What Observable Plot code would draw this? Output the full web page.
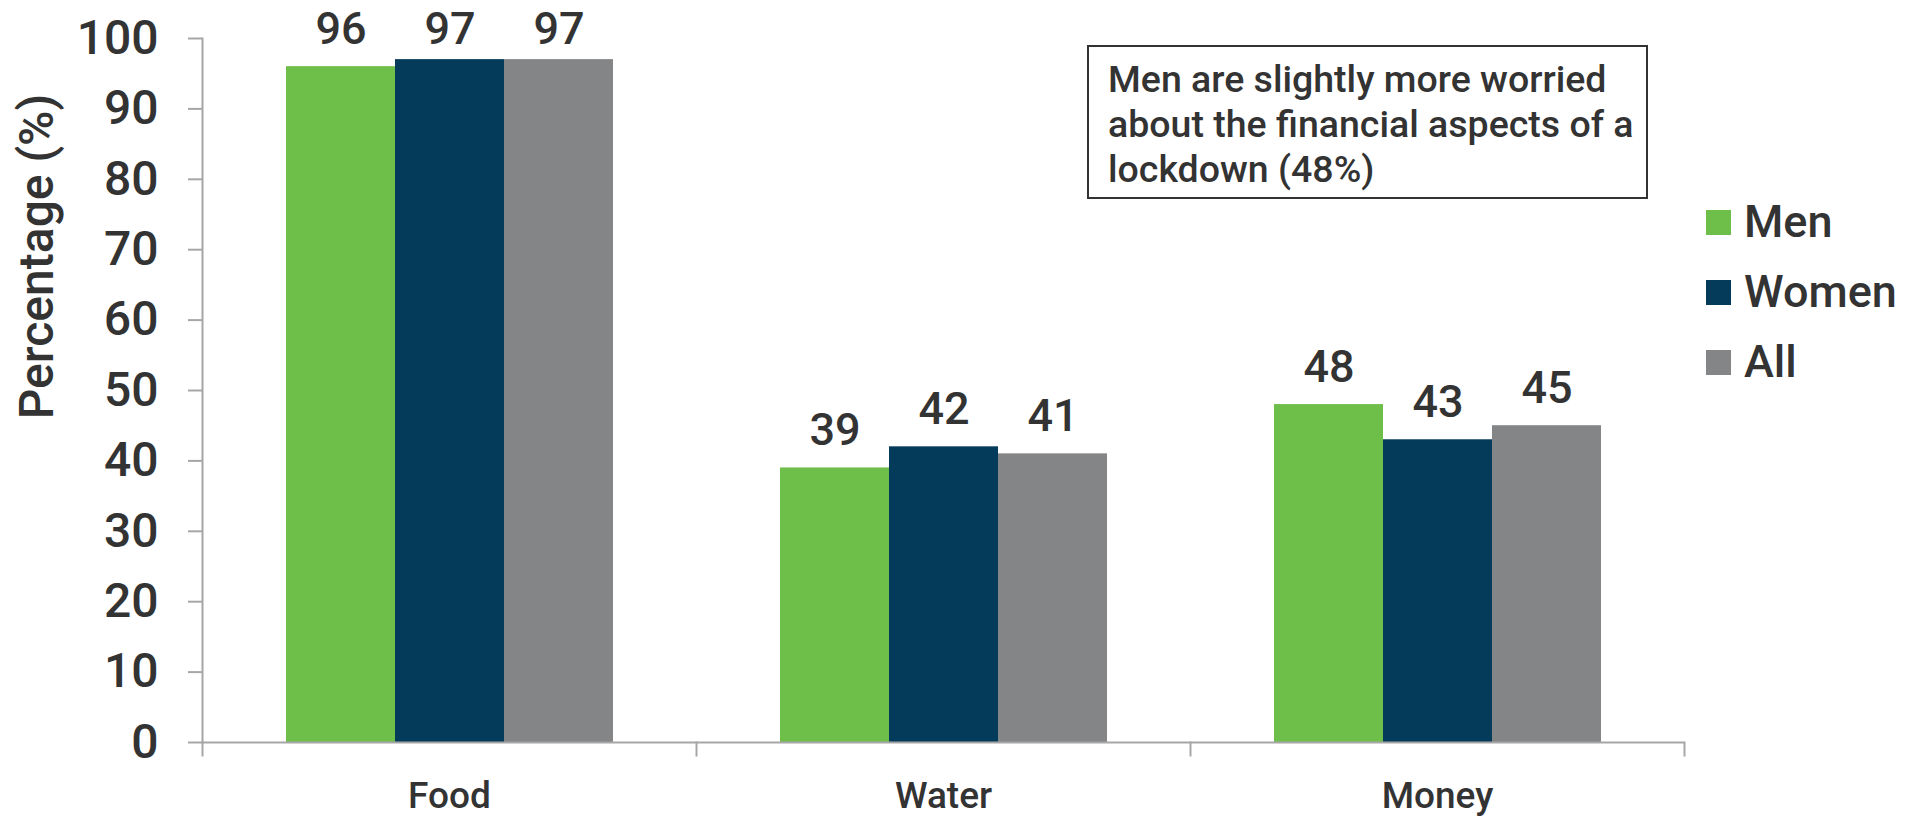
<!DOCTYPE html>
<html>
<head>
<meta charset="utf-8">
<script src="https://cdn.jsdelivr.net/npm/d3@7"></script>
<script src="https://cdn.jsdelivr.net/npm/@observablehq/plot@0.6"></script>
<style>
  html, body { margin: 0; padding: 0; background: #ffffff; }
  #wrap { position: relative; width: 1909px; height: 816px; font-family: Roboto, "Liberation Sans", Arial, sans-serif; font-weight: 500; color: #333333; }
  #chart { position: absolute; left: 0; top: 0; }
  #note { position: absolute; left: 1087px; top: 45px; width: 557px; height: 150px; border: 2px solid #333333; }
  #note div { position: absolute; left: 19px; top: 10px; font-size: 37.5px; line-height: 45px; white-space: nowrap; color: #333333; }
  .lg { position: absolute; left: 1706px; height: 46px; display: flex; align-items: center; white-space: nowrap; }
  .lg span.sw { display: inline-block; width: 25px; height: 25px; margin-right: 13px; }
  .lg span.tx { font-size: 45px; color: #333333; line-height: 46px; }
</style>
</head>
<body>
<div id="wrap">
  <div id="chart"></div>
  <div id="note"><div></div></div>
  <div id="legend"></div>
</div>
<script>
// ---- data ----
const categories = ["Food", "Water", "Money"];
const seriesNames = ["Men", "Women", "All"];
const menValues = [96, 39, 48];
const womenValues = [97, 42, 43];
const allValues = [97, 41, 45];
const seriesColors = ["#6ebe4a", "#043b5a", "#848587"];
const yTicks = [0, 10, 20, 30, 40, 50, 60, 70, 80, 90, 100];
const yLabel = "Percentage (%)";
const noteLines = ["Men are slightly more worried", "about the financial aspects of a", "lockdown (48%)"];
const labelCeiling = 96; // data labels cannot rise above the chart area

// ---- build table ----
const seriesValues = [menValues, womenValues, allValues];
const data = categories.flatMap((c, i) =>
  seriesNames.map((s, j) => ({category: c, series: s, value: seriesValues[j][i]}))
);

const W = 1909, H = 816, mTop = 38, mBottom = 74, mLeft = 202, mRight = 225;
const frameH = H - mTop - mBottom;
const axisColor = "#a6a6a6";
const textColor = "#333333";
const font = 'Roboto, "Liberation Sans", Arial, sans-serif';

const chart = Plot.plot({
  width: W,
  height: H,
  marginTop: mTop,
  marginBottom: mBottom,
  marginLeft: mLeft,
  marginRight: mRight,
  style: {fontFamily: font, fontWeight: 500, color: textColor, background: "transparent", overflow: "visible"},
  fx: {domain: categories, padding: 0, label: null},
  x: {domain: seriesNames, paddingInner: 0, paddingOuter: 0.766, axis: null},
  y: {domain: [0, 100], ticks: yTicks, label: null},
  color: {domain: seriesNames, range: seriesColors},
  marks: [
    Plot.barY(data, {fx: "category", x: "series", y: "value", fill: "series"}),
    Plot.ruleY([0], {stroke: axisColor, strokeWidth: 2}),
    Plot.frame({anchor: "left", facetAnchor: "left", stroke: axisColor, strokeWidth: 2}),
    Plot.frame({anchor: "left", insetTop: frameH, insetBottom: -13, stroke: axisColor, strokeWidth: 2}),
    Plot.frame({anchor: "right", facetAnchor: "right", insetTop: frameH, insetBottom: -13, stroke: axisColor, strokeWidth: 2}),
    Plot.axisY({ticks: yTicks, tickSize: 14, tickPadding: 30, fontSize: 48, stroke: axisColor, strokeWidth: 2, fill: textColor, label: null}),
    Plot.axisFx({anchor: "bottom", tickSize: 0, tickPadding: 39, fontSize: 37, fill: textColor, label: null}),
    Plot.text(data, {
      fx: "category", x: "series",
      y: d => Math.min(d.value, labelCeiling),
      text: d => String(d.value),
      dy: -37, fontSize: 45, fill: textColor, lineAnchor: "middle"
    }),
    Plot.text([yLabel], {
      fx: () => categories[0],
      frameAnchor: "left", text: d => d, rotate: -90, textAnchor: "middle",
      dx: -165, dy: -134, fontSize: 48, fill: textColor, lineAnchor: "middle"
    })
  ]
});
document.getElementById("chart").appendChild(chart);

// annotation box
document.querySelector("#note div").innerHTML = noteLines.map(t => t.replace(/&/g, "&amp;")).join("<br>");

// legend
const legend = document.getElementById("legend");
const legendTops = [199, 269, 339];
seriesNames.forEach((s, i) => {
  const row = document.createElement("div");
  row.className = "lg";
  row.style.top = legendTops[i] + "px";
  const sw = document.createElement("span");
  sw.className = "sw";
  sw.style.background = seriesColors[i];
  const tx = document.createElement("span");
  tx.className = "tx";
  tx.textContent = s;
  row.appendChild(sw);
  row.appendChild(tx);
  legend.appendChild(row);
});
</script>
</body>
</html>
